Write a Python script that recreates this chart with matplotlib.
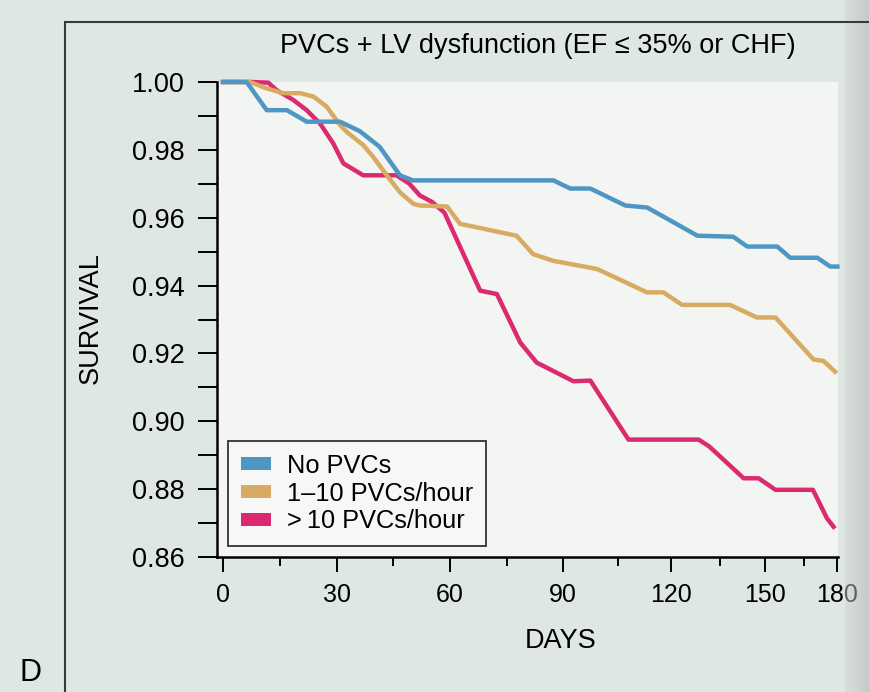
import numpy as np
import matplotlib.pyplot as plt
from matplotlib.patches import Patch, Rectangle

# ---------------------------------------------------------------
# Kaplan-Meier style survival
# ---------------------------------------------------------------
days_none = [0, 6.2, 11.5, 16.8, 22, 30.8, 36.1, 41.4, 46.8, 50.2, 87.4, 91.9,
             97.4, 107, 113.2, 128, 139.3, 144, 154.6, 159.6, 170.9, 176.8, 180]
surv_none = [1.0, 1.0, 0.9917, 0.9917, 0.9883, 0.9883, 0.9855, 0.9809, 0.9725,
             0.971, 0.971, 0.9686, 0.9686, 0.9636, 0.963, 0.9547, 0.9544, 0.9515,
             0.9515, 0.9482, 0.9482, 0.9456, 0.9456]

days_low = [0, 7.1, 11.5, 15.9, 20.3, 23.8, 27.3, 30.8, 32.6, 37, 39.7, 43.3,
            46.8, 50.3, 52, 59.2, 62.6, 77.5, 81.9, 87.3, 99.2, 106, 113.1,
            117.8, 123.3, 138.3, 147.2, 153.9, 169.2, 173.7, 179]
surv_low = [1.0, 1.0, 0.9981, 0.9967, 0.9967, 0.9957, 0.9927, 0.9873, 0.9853,
            0.9814, 0.9779, 0.9725, 0.9675, 0.9641, 0.9636, 0.9633, 0.9582,
            0.9547, 0.9493, 0.9473, 0.9449, 0.9415, 0.938, 0.938, 0.9343,
            0.9343, 0.9306, 0.9306, 0.9182, 0.9178, 0.9146]

days_high = [0, 7.5, 11.9, 14.1, 18.5, 22, 25.5, 29, 31.7, 37, 45.9, 49.3, 52,
             55.3, 58.5, 67.9, 72.3, 78.5, 82.9, 92.8, 97.4, 107.9, 128.4,
             131.6, 142.8, 147.8, 153.9, 168.9, 175.3, 178.3]
surv_high = [1.0, 1.0, 0.9998, 0.9976, 0.9947, 0.9917, 0.9878, 0.9819, 0.976,
             0.9725, 0.9725, 0.970, 0.9666, 0.9646, 0.9615, 0.9385, 0.9375,
             0.9232, 0.9173, 0.9118, 0.912, 0.8946, 0.8946, 0.8926, 0.8832,
             0.8832, 0.8798, 0.8798, 0.8714, 0.8689]

labels = ['No PVCs', '1\u201310 PVCs/hour', '>\u200910 PVCs/hour']
colors = ['#4e97c2', '#d8aa62', '#dc2a70']

x_major = [0, 30, 60, 90, 120, 150, 180]
x_minor = [15, 45, 75, 105, 135, 165]
y_ticks = np.arange(0.86, 1.0001, 0.01)
y_labels = ['%.2f' % v if round(v * 100) % 2 == 0 else '' for v in y_ticks]

# the scanned page is curved, so the day axis squeezes to the right
curl_days = [-20, 0, 15, 30, 45, 60, 75, 90, 105, 120, 135, 150, 165, 180, 200]
curl_pos = [148, 223, 280, 337, 393, 450, 507, 563, 618, 671, 720, 765, 804, 837, 881]


def fwd(x):
    return np.interp(x, curl_days, curl_pos)


def inv(p):
    return np.interp(p, curl_pos, curl_days)


plt.rcParams['font.family'] = ['Liberation Sans', 'DejaVu Sans']

fig = plt.figure(figsize=(8.69, 6.92), dpi=100, facecolor='#dfe7e3')
ax = fig.add_axes([217 / 869, 1 - 557 / 692, 621 / 869, 475 / 692])
ax.set_facecolor('#f3f5f3')
ax.set_xscale('function', functions=(fwd, inv))

for d, s, c in [(days_high, surv_high, colors[2]),
                (days_low, surv_low, colors[1]),
                (days_none, surv_none, colors[0])]:
    ax.plot(d, s, color=c, lw=3.2, clip_on=False, solid_joinstyle='round')

ax.set_xlim(-1.6, 180.3)
ax.set_ylim(0.86, 1.0)

for side in ['top', 'right']:
    ax.spines[side].set_visible(False)
for side in ['left', 'bottom']:
    ax.spines[side].set_linewidth(1.8)

ax.set_xticks(x_major)
ax.set_xticks(x_minor, minor=True)
ax.set_yticks(y_ticks)
ax.set_yticklabels(y_labels)
ax.tick_params(axis='y', length=13.5, width=1.4, pad=10, labelsize=19.5)
ax.tick_params(axis='x', which='major', length=11, width=1.4, pad=8, labelsize=18)
ax.tick_params(axis='x', which='minor', length=6.5, width=1.4)

fig.text(0.619, 0.933, 'PVCs + LV dysfunction (EF \u2264 35% or CHF)',
         ha='center', va='center', fontsize=19.5)
fig.text(0.104, 0.54, 'SURVIVAL', rotation=90, ha='center', va='center', fontsize=19.5)
fig.text(0.645, 0.073, 'DAYS', ha='center', va='center', fontsize=19.5)
fig.text(0.035, 0.027, 'D', ha='center', va='center', fontsize=22)

handles = [Patch(facecolor=c, edgecolor='none') for c in colors]
leg = ax.legend(handles, labels, loc='lower left', bbox_to_anchor=(0.018, 0.023),
                borderaxespad=0, fontsize=18.3, frameon=True, fancybox=False,
                handlelength=1.2, handleheight=0.4, handletextpad=0.6,
                labelspacing=0.15, borderpad=0.5)
leg.get_frame().set_edgecolor('#333333')
leg.get_frame().set_linewidth(1.3)
leg.get_frame().set_facecolor('#f6f7f6')
leg.get_frame().set_alpha(1)

# figure box and shadow of the page fold
fig.add_artist(Rectangle((65 / 869, -0.1), 1, 1.1 - 22 / 692, transform=fig.transFigure,
                         fill=False, edgecolor='#3a3a3a', lw=1.5))
fold = fig.add_axes([845 / 869, 0, 24 / 869, 1])
fold.imshow(np.linspace(0, 1, 50)[None, :], aspect='auto', cmap='Greys',
            vmin=-2, vmax=5, alpha=0.5)
fold.axis('off')

fig.savefig('out.png', dpi=100, facecolor=fig.get_facecolor())
